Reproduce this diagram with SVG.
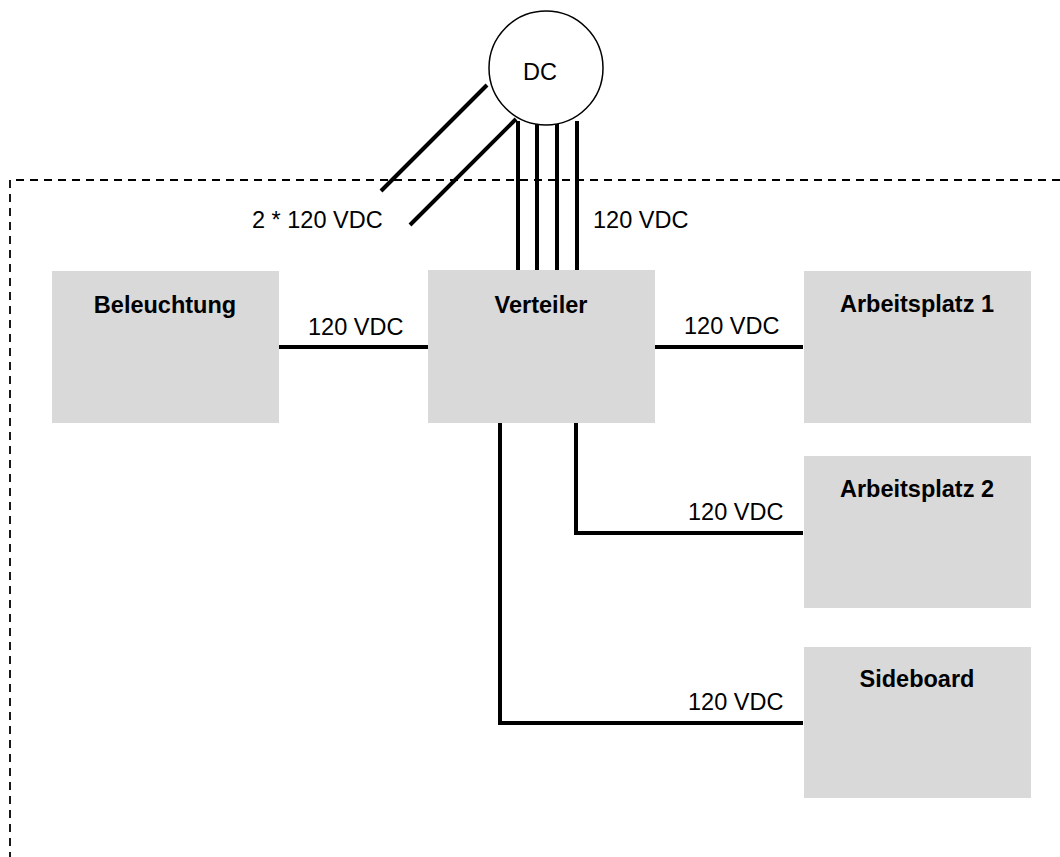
<svg xmlns="http://www.w3.org/2000/svg" width="1060" height="857" viewBox="0 0 1060 857">
<style>
.box{fill:#d9d9d9}
.title{font-family:"Liberation Sans",Arial,sans-serif;font-size:23.5px;font-weight:bold;fill:#000;text-anchor:middle}
.lbl{font-family:"Liberation Sans",Arial,sans-serif;font-size:23.5px;fill:#000}
.wire{stroke:#000;stroke-width:4;fill:none}
.border{stroke:#000;stroke-width:1.8;fill:none;stroke-dasharray:8 6}
</style>
<rect width="1060" height="857" fill="#fff"/>
<path class="border" d="M1060 180 H10 V857"/>
<g id="connectors">
<line class="wire" x1="487" y1="85" x2="381" y2="191"/>
<line class="wire" x1="516" y1="119" x2="410" y2="225"/>
<line class="wire" x1="518" y1="121" x2="518" y2="270"/>
<line class="wire" x1="537" y1="123" x2="537" y2="270"/>
<line class="wire" x1="557" y1="123" x2="557" y2="270"/>
<line class="wire" x1="577" y1="121" x2="577" y2="270"/>
<line class="wire" x1="279" y1="347" x2="428" y2="347"/>
<line class="wire" x1="655" y1="347" x2="803" y2="347"/>
<polyline class="wire" points="576,421 576,533 803,533"/>
<polyline class="wire" points="500,421 500,723 803,723"/>
<text class="lbl" x="252" y="228">2 * 120 VDC</text>
<text class="lbl" x="593" y="228">120 VDC</text>
<text class="lbl" x="308" y="335">120 VDC</text>
<text class="lbl" x="684" y="334">120 VDC</text>
<text class="lbl" x="688" y="520">120 VDC</text>
<text class="lbl" x="688" y="710">120 VDC</text>
</g>
<g id="dc">
<circle cx="546" cy="68" r="57" fill="#fff" stroke="#000" stroke-width="1.5"/>
<text class="lbl" x="540" y="80" text-anchor="middle">DC</text>
</g>
<g id="beleuchtung">
<rect class="box" x="52" y="271" width="227" height="152"/>
<text class="title" x="165" y="313">Beleuchtung</text>
</g>
<g id="verteiler">
<rect class="box" x="428" y="270" width="227" height="153"/>
<text class="title" x="541" y="313">Verteiler</text>
</g>
<g id="arbeitsplatz1">
<rect class="box" x="804" y="271" width="227" height="152"/>
<text class="title" x="917" y="312">Arbeitsplatz 1</text>
</g>
<g id="arbeitsplatz2">
<rect class="box" x="804" y="456" width="227" height="152"/>
<text class="title" x="917" y="497">Arbeitsplatz 2</text>
</g>
<g id="sideboard">
<rect class="box" x="804" y="647" width="227" height="151"/>
<text class="title" x="917" y="687">Sideboard</text>
</g>
</svg>
